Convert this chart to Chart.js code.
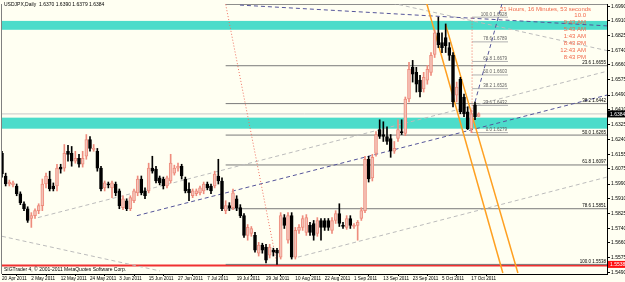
<!DOCTYPE html>
<html>
<head>
<meta charset="utf-8">
<script src="https://cdn.jsdelivr.net/npm/chart.js@4.4.0/dist/chart.umd.min.js"></script>
<style>
  html, body { margin: 0; padding: 0; background: #fffff2; }
  #wrap { width: 625px; height: 282px; position: relative; }
</style>
</head>
<body>
<div id="wrap"><canvas id="chart"></canvas></div>
<script>
// date label under every 8th daily bar
const dateLabels = ['20 Apr 2011', '2 May 2011', '12 May 2011', '24 May 2011', '3 Jun 2011', '15 Jun 2011',
  '27 Jun 2011', '7 Jul 2011', '19 Jul 2011', '29 Jul 2011', '10 Aug 2011', '22 Aug 2011', '1 Sep 2011',
  '13 Sep 2011', '23 Sep 2011', '5 Oct 2011', '17 Oct 2011'];
const totalSlots = 166; // bars + empty space on the right (chart shift)

// right axis price labels
const priceTicks = [1.6990, 1.6910, 1.6825, 1.6740, 1.6660, 1.6575, 1.6490, 1.6410, 1.6325, 1.6240,
  1.6155, 1.6075, 1.5990, 1.5910, 1.5825, 1.5740, 1.5660, 1.5575, 1.5490];

// daily OHLC
const open = [
  1.6162, 1.6035, 1.5990, 1.5985, 1.5979, 1.5935, 1.5879, 1.5851, 1.5796, 1.5812,
  1.5840, 1.5868, 1.5990, 1.6018, 1.5979, 1.5979, 1.6085, 1.6079, 1.6174, 1.6162,
  1.6118, 1.6135, 1.6101, 1.6146, 1.6240, 1.6185, 1.6174, 1.6079, 1.5968, 1.5990,
  1.5968, 1.5990, 1.5951, 1.5857, 1.5896, 1.5851, 1.5896, 1.5940, 1.6018, 1.5951,
  1.5951, 1.6079, 1.6074, 1.6024, 1.6018, 1.5979, 1.6007, 1.6051, 1.6079, 1.6090,
  1.6018, 1.5962, 1.5924, 1.5935, 1.5940, 1.5951, 1.5990, 1.5979, 1.5979, 1.6035,
  1.6007, 1.5840, 1.5868, 1.5857, 1.5907, 1.5857, 1.5812, 1.5701, 1.5712, 1.5701,
  1.5601, 1.5646, 1.5635, 1.5590, 1.5618, 1.5618, 1.5579, 1.5801, 1.5674, 1.5812,
  1.5579, 1.5729, 1.5746, 1.5718, 1.5757, 1.5768, 1.5712, 1.5785, 1.5785, 1.5785,
  1.5729, 1.5785, 1.5823, 1.5757, 1.5746, 1.5796, 1.5751, 1.5757, 1.5796, 1.5840,
  1.6129, 1.6024, 1.6162, 1.6296, 1.6268, 1.6257, 1.6246, 1.6174, 1.6246, 1.6285,
  1.6274, 1.6468, 1.6646, 1.6618, 1.6574, 1.6524, 1.6574, 1.6618, 1.6718, 1.6840,
  1.6785, 1.6813, 1.6757, 1.6713, 1.6490, 1.6579, 1.6479, 1.6396, 1.6301, 1.6435,
  1.6370];
const high = [
  1.6174, 1.6051, 1.6012, 1.6007, 1.5990, 1.5946, 1.5890, 1.5862, 1.5829, 1.5851,
  1.5879, 1.6018, 1.6051, 1.6062, 1.5996, 1.6101, 1.6101, 1.6212, 1.6207, 1.6201,
  1.6174, 1.6157, 1.6174, 1.6268, 1.6257, 1.6212, 1.6190, 1.6090, 1.6007, 1.6001,
  1.6007, 1.6001, 1.5962, 1.5924, 1.5907, 1.5924, 1.5962, 1.6035, 1.6035, 1.5968,
  1.6107, 1.6146, 1.6090, 1.6035, 1.6029, 1.6035, 1.6157, 1.6096, 1.6107, 1.6101,
  1.6029, 1.5996, 1.5962, 1.5962, 1.5979, 1.6001, 1.6001, 1.5990, 1.6062, 1.6129,
  1.6024, 1.5896, 1.5885, 1.5962, 1.5924, 1.5874, 1.5823, 1.5762, 1.5751, 1.5718,
  1.5662, 1.5657, 1.5651, 1.5651, 1.5629, 1.5629, 1.5829, 1.5818, 1.5829, 1.5829,
  1.5746, 1.5762, 1.5812, 1.5818, 1.5774, 1.5785, 1.5801, 1.5796, 1.5796, 1.5796,
  1.5801, 1.5840, 1.5879, 1.5774, 1.5812, 1.5812, 1.5768, 1.5785, 1.5857, 1.6146,
  1.6146, 1.6157, 1.6285, 1.6351, 1.6340, 1.6312, 1.6268, 1.6229, 1.6351, 1.6351,
  1.6479, 1.6674, 1.6685, 1.6646, 1.6601, 1.6618, 1.6657, 1.6729, 1.6857, 1.6928,
  1.6840, 1.6890, 1.6785, 1.6729, 1.6563, 1.6590, 1.6496, 1.6424, 1.6407, 1.6451,
  1.6390];
const low = [
  1.6029, 1.5979, 1.5979, 1.5974, 1.5924, 1.5874, 1.5840, 1.5774, 1.5746, 1.5796,
  1.5823, 1.5840, 1.5968, 1.5951, 1.5951, 1.5951, 1.6051, 1.6062, 1.6118, 1.6090,
  1.6107, 1.6085, 1.6085, 1.6129, 1.6174, 1.6174, 1.6062, 1.5951, 1.5951, 1.5968,
  1.5913, 1.5924, 1.5851, 1.5846, 1.5840, 1.5840, 1.5885, 1.5924, 1.5929, 1.5907,
  1.5940, 1.6051, 1.5996, 1.5985, 1.5962, 1.5968, 1.5996, 1.6040, 1.6062, 1.6018,
  1.5940, 1.5896, 1.5913, 1.5924, 1.5929, 1.5935, 1.5957, 1.5935, 1.5968, 1.5990,
  1.5840, 1.5823, 1.5840, 1.5846, 1.5840, 1.5801, 1.5690, 1.5674, 1.5696, 1.5607,
  1.5585, 1.5601, 1.5546, 1.5574, 1.5585, 1.5538, 1.5568, 1.5740, 1.5657, 1.5568,
  1.5568, 1.5712, 1.5729, 1.5701, 1.5701, 1.5674, 1.5696, 1.5674, 1.5729, 1.5729,
  1.5712, 1.5768, 1.5751, 1.5740, 1.5735, 1.5740, 1.5740, 1.5674, 1.5785, 1.5829,
  1.6001, 1.6007, 1.6146, 1.6246, 1.6229, 1.6212, 1.6140, 1.6162, 1.6229, 1.6268,
  1.6262, 1.6451, 1.6563, 1.6507, 1.6479, 1.6507, 1.6551, 1.6601, 1.6701, 1.6757,
  1.6729, 1.6729, 1.6685, 1.6424, 1.6451, 1.6385, 1.6368, 1.6296, 1.6279, 1.6351,
  1.6370];
const close = [
  1.6046, 1.5990, 1.6001, 1.5996, 1.5935, 1.5885, 1.5851, 1.5785, 1.5812, 1.5840,
  1.5868, 1.5990, 1.6035, 1.5962, 1.5962, 1.6079, 1.6074, 1.6162, 1.6157, 1.6118,
  1.6135, 1.6101, 1.6135, 1.6240, 1.6190, 1.6190, 1.6079, 1.5962, 1.5996, 1.5985,
  1.5996, 1.5940, 1.5868, 1.5907, 1.5851, 1.5913, 1.5951, 1.6018, 1.5940, 1.5924,
  1.6079, 1.6062, 1.6007, 1.5996, 1.5979, 1.6024, 1.6107, 1.6079, 1.6090, 1.6035,
  1.5951, 1.5940, 1.5951, 1.5951, 1.5968, 1.5990, 1.5968, 1.5951, 1.6046, 1.6007,
  1.5851, 1.5868, 1.5857, 1.5940, 1.5857, 1.5812, 1.5701, 1.5746, 1.5740, 1.5618,
  1.5646, 1.5618, 1.5562, 1.5635, 1.5607, 1.5601, 1.5812, 1.5757, 1.5812, 1.5579,
  1.5729, 1.5746, 1.5796, 1.5801, 1.5718, 1.5701, 1.5785, 1.5746, 1.5746, 1.5746,
  1.5785, 1.5823, 1.5768, 1.5751, 1.5796, 1.5757, 1.5757, 1.5774, 1.5840, 1.6129,
  1.6018, 1.6140, 1.6268, 1.6257, 1.6257, 1.6229, 1.6174, 1.6190, 1.6296, 1.6279,
  1.6468, 1.6635, 1.6607, 1.6551, 1.6507, 1.6590, 1.6635, 1.6713, 1.6840, 1.6774,
  1.6757, 1.6768, 1.6713, 1.6451, 1.6535, 1.6396, 1.6385, 1.6301, 1.6385, 1.6368,
  1.6384];

const titleText = 'USDJPX,Daily  1.6370 1.6390 1.6379 1.6384';
const copyrightText = 'SIGTrader 4, \u00a9 2001-2011 MetaQuotes Software Corp.';
const bidPrice = 1.6384;
const lowMarker = 1.5538;

// rectangles (price from, price to)
const zones = [[1.6907, 1.6857], [1.6363, 1.6301]];

// trend lines: [bar, price, bar, price]
const orangeLines = [[115.8, 1.7007, 136.6, 1.5490], [121.0, 1.6886, 140.7, 1.5490]];
const navyLines = [[36.8, 1.5812, 165, 1.6490], [64.9, 1.6996, 165, 1.6879], [129, 1.6451, 136.4, 1.7007]];
const grayLines = [[9.8, 1.5801, 165, 1.6624], [80.7, 1.5579, 165, 1.6029], [0, 1.5696, 43.1, 1.5501], [106.4, 1.7007, 165, 1.6740]];
const fibTrend = [[61, 1.7000, 75, 1.5538], [128.2, 1.6279, 128.2, 1.6928]];

// fibonacci levels
const fibLevels = [0, 23.6, 38.2, 50.0, 61.8, 78.6, 100.0];
const fibBigPrices = [1.7000, 1.6655, 1.6442, 1.6265, 1.6097, 1.5851, 1.5538];
const fibBigFrom = 61;
const fibSmallPrices = [1.6279, 1.6432, 1.6526, 1.6603, 1.6679, 1.6789, 1.6928];
const fibSmallFrom = 128.2, fibSmallTo = 138;

// countdown indicator text
const timerTitle = '21 Hours, 16 Minutes, 53 seconds';
const timerLines = ['10.0', '9:43 AM', '5:43 AM', '1:43 AM', '8:43 PM', '12:43 AM', '8:43 PM'];

// category slots, a date under each 8th one
const categories = [];
for (let i = 0; i < totalSlots; i++) {
  categories.push(i % 8 === 0 && dateLabels[i / 8] ? dateLabels[i / 8] : '');
}

const isBull = open.map((o, i) => close[i] >= o);
const bullFill = '#f4c3b8', bullEdge = '#ee8c7d';

const overlays = {
  id: 'overlays',
  beforeDatasetsDraw(chart) {
    const { ctx, chartArea: a, scales: { x, y } } = chart;
    const px = v => x.getPixelForValue(v);
    const py = v => y.getPixelForValue(v);
    const seg = (l) => {
      ctx.beginPath();
      ctx.moveTo(px(l[0]), py(l[1]));
      ctx.lineTo(px(l[2]), py(l[3]));
      ctx.stroke();
    };
    ctx.save();
    ctx.beginPath();
    ctx.rect(a.left, a.top, a.right - a.left, a.bottom - a.top);
    ctx.clip();

    // turquoise zones
    ctx.fillStyle = '#4cdcca';
    zones.forEach(z => ctx.fillRect(a.left, py(z[0]), a.right - a.left, py(z[1]) - py(z[0])));

    // bid line
    ctx.strokeStyle = '#c8c8c8';
    ctx.lineWidth = 1;
    ctx.beginPath();
    ctx.moveTo(a.left, py(bidPrice)); ctx.lineTo(a.right, py(bidPrice));
    ctx.stroke();

    // red low line
    ctx.strokeStyle = '#f03030';
    ctx.lineWidth = 2;
    ctx.beginPath();
    ctx.moveTo(a.left, py(lowMarker) + 1); ctx.lineTo(a.right, py(lowMarker) + 1);
    ctx.stroke();

    // fibo levels
    ctx.strokeStyle = '#7a7a7a';
    ctx.lineWidth = 1;
    fibBigPrices.forEach(p => seg([fibBigFrom, p, totalSlots, p]));
    ctx.strokeStyle = '#b0b0b0';
    fibSmallPrices.forEach(p => seg([fibSmallFrom, p, fibSmallTo, p]));

    // trend lines
    ctx.lineWidth = 1;
    ctx.setLineDash([4, 3]);
    ctx.strokeStyle = '#bcbcbc';
    grayLines.forEach(seg);
    ctx.strokeStyle = '#55559a';
    navyLines.forEach(seg);
    ctx.setLineDash([1, 2]);
    ctx.strokeStyle = '#f07060';
    fibTrend.forEach(seg);
    ctx.setLineDash([]);
    ctx.strokeStyle = '#ffa020';
    ctx.lineWidth = 1.5;
    orangeLines.forEach(seg);
    ctx.restore();
  },
  afterDraw(chart) {
    const { ctx, chartArea: a, scales: { x, y } } = chart;
    const px = v => x.getPixelForValue(v);
    const py = v => y.getPixelForValue(v);
    ctx.save();

    // left frame line
    ctx.strokeStyle = '#808080';
    ctx.lineWidth = 1;
    ctx.beginPath();
    ctx.moveTo(a.left - 0.5, a.top); ctx.lineTo(a.left - 0.5, a.bottom);
    ctx.stroke();

    ctx.textBaseline = 'middle';
    ctx.font = '5px "Liberation Sans", Arial, sans-serif';
    ctx.fillStyle = '#000';
    ctx.textAlign = 'left';
    ctx.fillText(titleText, a.left + 2, 5);
    ctx.fillText(copyrightText, a.left + 2, 270);

    // fibo labels
    ctx.font = '4.5px "Liberation Sans", Arial, sans-serif';
    ctx.textAlign = 'right';
    ctx.textBaseline = 'bottom';
    fibBigPrices.forEach((p, k) => {
      if (k === 0) return;
      ctx.fillText(fibLevels[k].toFixed(1) + ' ' + p.toFixed(4), a.right - 1, py(p) - 0.5);
    });
    ctx.fillStyle = '#606060';
    fibSmallPrices.forEach((p, k) => {
      ctx.fillText(fibLevels[k].toFixed(1) + ' ' + p.toFixed(4), px(fibSmallTo) - 1, py(p) - 0.5);
    });

    // countdown text
    ctx.fillStyle = '#f26a4c';
    ctx.textBaseline = 'middle';
    ctx.font = '6px "Liberation Sans", Arial, sans-serif';
    ctx.textAlign = 'left';
    ctx.fillText(timerTitle, 500, 9);
    ctx.textAlign = 'right';
    timerLines.forEach((t, k) => ctx.fillText(t, 586, 15.5 + k * 7));

    // price boxes on the axis
    ctx.font = '5px "Liberation Sans", Arial, sans-serif';
    ctx.textAlign = 'left';
    [[bidPrice, '#000000'], [lowMarker, '#ff1010']].forEach(([p, c]) => {
      const yy = py(p);
      ctx.fillStyle = c;
      ctx.fillRect(a.right + 1, yy - 3.5, 17, 7);
      ctx.fillStyle = '#fff';
      ctx.fillText(p.toFixed(4), a.right + 3, yy + 0.5);
    });
    ctx.restore();
  }
};

new Chart(document.getElementById('chart'), {
  type: 'bar',
  data: {
    labels: categories,
    datasets: [
      {
        label: 'wick',
        data: high.map((h, i) => [low[i], h]),
        backgroundColor: isBull.map(b => b ? bullEdge : '#000'),
        barThickness: 1,
        grouped: false,
        order: 2
      },
      {
        label: 'body',
        data: open.map((o, i) => [o, close[i]]),
        backgroundColor: isBull.map(b => b ? bullFill : '#000'),
        borderColor: isBull.map(b => b ? bullEdge : '#000'),
        borderWidth: 1,
        borderSkipped: false,
        minBarLength: 1,
        barThickness: 3,
        grouped: false,
        order: 1
      }
    ]
  },
  options: {
    responsive: true,
    maintainAspectRatio: false,
    animation: false,
    layout: { padding: { left: 2, top: 1, right: 0, bottom: 0 } },
    plugins: { legend: { display: false }, tooltip: { enabled: false } },
    scales: {
      x: {
        offset: false,
        grid: { display: true, drawOnChartArea: false, tickLength: 2, color: '#000' },
        border: { color: '#000' },
        afterBuildTicks: axis => { axis.ticks = dateLabels.map((_, k) => ({ value: k * 8 })); },
        afterFit: axis => { axis.height = 8; },
        ticks: {
          autoSkip: false, maxRotation: 0, align: 'start', padding: 0,
          color: '#000', font: { family: '"Liberation Sans", Arial, sans-serif', size: 4.6 },
          callback: v => categories[v]
        }
      },
      y: {
        position: 'right',
        min: 1.5484,
        max: 1.7002,
        grid: { display: true, drawOnChartArea: false, tickLength: 3, color: '#000' },
        border: { color: '#000' },
        afterBuildTicks: axis => { axis.ticks = priceTicks.map(v => ({ value: v })); },
        afterFit: axis => { axis.width = 18; },
        ticks: {
          padding: 1, color: '#000',
          font: { family: '"Liberation Sans", Arial, sans-serif', size: 5 },
          callback: v => v.toFixed(4)
        }
      }
    }
  },
  plugins: [overlays]
});
</script>
</body>
</html>
